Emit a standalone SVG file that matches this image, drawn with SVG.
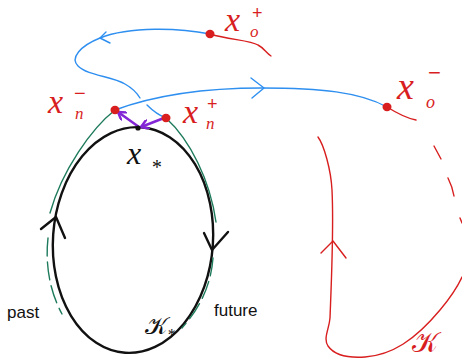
<svg xmlns="http://www.w3.org/2000/svg" width="462" height="363" viewBox="0 0 462 363">
<style>
.blk{fill:none;stroke:#111;stroke-width:2.4;stroke-linecap:round;stroke-linejoin:round}
.blu{fill:none;stroke:#2e8ff0;stroke-width:1.4;stroke-linecap:round;stroke-linejoin:round}
.red{fill:none;stroke:#d81e1e;stroke-width:1.4;stroke-linecap:round;stroke-linejoin:round}
.grn{fill:none;stroke:#1d7a5c;stroke-width:1.4;stroke-linecap:round}
.dash{stroke-dasharray:18 6}
.pur{fill:none;stroke:#8326d6;stroke-width:2.6;stroke-linecap:round}
.dot{fill:#d81e1e}
.m{font-family:"Liberation Serif",serif;font-style:italic}
.s{font-family:"Liberation Sans",sans-serif}
.r{fill:#d81e1e}
.k{fill:#111}
.lab{font-family:"Liberation Sans",Arial,sans-serif;font-size:17px;fill:#111}
</style>
<defs>
<marker id="pa" markerWidth="10" markerHeight="10" refX="8" refY="5" orient="auto" markerUnits="userSpaceOnUse">
<path d="M1,0.5 L8,5 L1,9.5" fill="none" stroke="#8326d6" stroke-width="2.4" stroke-linecap="round" stroke-linejoin="round"/>
</marker>
</defs>
<g id="connectors">
<ellipse class="blk" cx="133" cy="240" rx="80" ry="113" transform="rotate(4 133 240)"/>
<path class="blk" d="M41,229 L56,217 L65,238"/>
<path class="blk" d="M204,233 L212,250 L228,232"/>
<path class="grn" d="M115,110 C92,128 62,170 50,213"/>
<path class="grn dash" d="M48,238 C45,265 50,292 62,314"/>
<path class="grn" d="M166,118 C190,140 210,180 216,222"/>
<path class="grn dash" d="M213,258 C211,285 200,308 182,328"/>
<path class="blu" d="M210,34 C180,28 130,26 100,38 C80,46 70,58 78,66 C88,76 112,76 125,84 C132,88 137,93 140,98"/>
<path class="blu" d="M147,105 C152,110 158,115 166,118"/>
<path class="blu" d="M106,32 L100,38 L110,43"/>
<path class="blu" d="M115,110 C150,97 200,88 262,88 C320,88 360,92 387,107"/>
<path class="blu" d="M251,78 L264,88 L252,98"/>
<path class="red" d="M210,34 C230,40 250,40 258,45 C264,48 266,53 271,56"/>
<path class="red" d="M387,107 C395,112 405,118 416,120"/>
<path class="red" d="M318,137 C324,145 331,170 332,190 C334,230 331,290 330,318 C329,330 323,338 328,346 C335,356 350,358 365,357 C392,355 415,340 440,310 C450,298 457,288 462,277"/>
<path class="red" d="M321,253 L333,241 L346,258"/>
<path class="red" d="M434,146 L441,159 M448,178 C451,184 453,190 454,196 M460,218 L462,223"/>
<path class="pur" d="M139,127 L118,112" marker-end="url(#pa)"/>
<path class="pur" d="M164,118 L141,127" marker-end="url(#pa)"/>
</g>
<g id="xstar">
<circle cx="138" cy="128" r="2.6" fill="#111"/>
<text class="m k" x="127" y="164" font-size="32">x</text>
<text class="m k" x="151" y="174" font-size="20">*</text>
</g>
<g id="xn-minus">
<ellipse class="dot" cx="115" cy="110" rx="4.5" ry="4.2"/>
<text class="m r" x="48" y="113" font-size="34">x</text>
<text class="m r" x="75" y="119" font-size="17">n</text>
<text class="s r" x="74" y="100" font-size="20">−</text>
</g>
<g id="xn-plus">
<ellipse class="dot" cx="166" cy="118" rx="4.5" ry="4.2"/>
<text class="m r" x="183" y="123" font-size="34">x</text>
<text class="m r" x="206" y="129" font-size="17">n</text>
<text class="s r" x="207" y="110" font-size="18">+</text>
</g>
<g id="x0-plus">
<ellipse class="dot" cx="210" cy="34" rx="4.5" ry="4.2"/>
<text class="m r" x="225" y="31" font-size="34">x</text>
<text class="m r" x="250" y="37" font-size="17">o</text>
<text class="s r" x="252" y="19" font-size="18">+</text>
</g>
<g id="x0-minus">
<ellipse class="dot" cx="387" cy="107" rx="4.5" ry="4.2"/>
<text class="m r" x="397" y="99" font-size="38">x</text>
<text class="m r" x="426" y="108" font-size="18">o</text>
<text class="s r" x="428" y="80" font-size="22">−</text>
</g>
<g id="labels">
<text class="lab" x="7" y="318">past</text>
<text class="lab" x="214" y="316">future</text>
<text x="145" y="334" font-size="24" fill="#111" font-family="DejaVu Sans,serif">𝒦</text>
<text class="m k" x="167" y="340" font-size="16">*</text>
<text x="412" y="352" font-size="28" fill="#d81e1e" font-family="DejaVu Sans,serif">𝒦</text>
</g>
</svg>
